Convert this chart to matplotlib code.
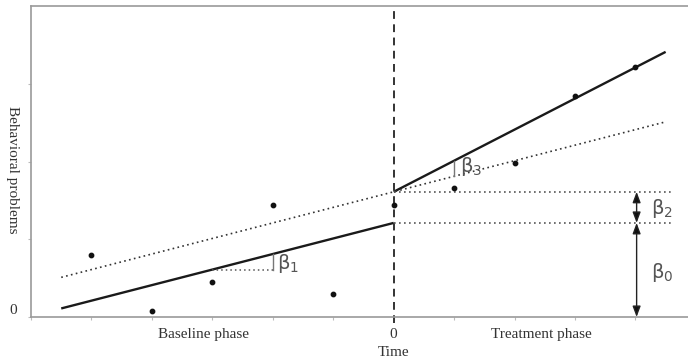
import numpy as np
import matplotlib.pyplot as plt

# observed points
base_x = [-5, -4, -3, -2, -1]
base_y = [0.80, 0.08, 0.45, 1.44, 0.30]
treat_x = [0, 1, 2, 3, 4]
treat_y = [1.44, 1.66, 1.98, 2.84, 3.22]

# model coefficients
b0 = 1.21   # baseline intercept
b1 = 0.20   # baseline slope
b2 = 0.40   # level change
b3 = 0.20   # slope change

x_start, x_end = -5.5, 4.5

grey = "#9a9a9a"
txt = "#333333"
serif = "Liberation Serif"
dots = (0, (1, 2.0))

plt.rcParams["mathtext.fontset"] = "dejavusans"


def beta(ax, x, y, sub):
    ax.text(x, y, r"$\mathregular{\beta_%s}$" % sub, fontsize=14, color="#555555",
            va="center", family="DejaVu Sans")


def main():
    fig = plt.figure(figsize=(6.88, 3.62), dpi=100)
    ax = fig.add_axes([31 / 688, 45 / 362, 1 - 31 / 688, 311 / 362])
    ax.set_xlim(-6.0, 4.87)
    ax.set_ylim(0, 4)

    # regression lines
    xb = np.array([x_start, 0])
    xt = np.array([0, x_end])
    ax.plot(xb, b0 + b1 * xb, color="#1a1a1a", lw=1.7, solid_capstyle="butt")
    ax.plot(xt, b0 + b2 + (b1 + b3) * xt, color="#1a1a1a", lw=1.7, solid_capstyle="butt")
    xd = np.array([x_start, x_end])
    ax.plot(xd, b0 + b2 + b1 * xd, color="#333333", lw=1.2, ls=dots)

    # points
    ax.scatter(base_x + treat_x, base_y + treat_y, s=10, color="#111111", zorder=3)

    # phase change line
    ax.axvline(0, color="#333333", lw=1.4, ls=(0, (4, 2.8)), ymin=-0.02, clip_on=False)

    # level reference lines
    ax.plot([0, 4.6], [b0 + b2, b0 + b2], color="#555555", lw=1.2, ls=dots)
    ax.plot([0, 4.6], [b0, b0], color="#555555", lw=1.2, ls=dots)

    # beta0 / beta2 arrows
    ax_x = 4.02
    arr = dict(arrowstyle="<|-|>,head_length=0.8,head_width=0.3", color="#777777",
               lw=1.0, mutation_scale=8, shrinkA=0, shrinkB=0,
               fc="#111111", ec="#222222")
    ax.annotate("", xy=(ax_x, b0), xytext=(ax_x, b0 + b2), arrowprops=arr)
    ax.annotate("", xy=(ax_x, 0), xytext=(ax_x, b0), arrowprops=arr)
    beta(ax, 4.25, b0 + b2 / 2 - 0.02, "2")
    beta(ax, 4.25, b0 / 2 - 0.03, "0")

    # beta1 triangle
    y_a = b0 + b1 * -3
    ax.plot([-3, -2], [y_a, y_a], color="#555555", lw=1.1, ls=dots)
    ax.plot([-2, -2], [y_a, b0 + b1 * -2], color="#777777", lw=1.0)
    beta(ax, -1.93, y_a + 0.08, "1")

    # beta3 marker
    ax.plot([1, 1], [b0 + b2 + b1, b0 + b2 + b1 + b3], color="#777777", lw=1.0)
    beta(ax, 1.1, b0 + b2 + b1 + 0.13, "3")

    # axes styling
    for side in ["left", "bottom", "top"]:
        ax.spines[side].set_color(grey)
        ax.spines[side].set_linewidth(1.2)
    ax.spines["right"].set_visible(False)

    ax.set_yticks([0, 1, 2, 3])
    ax.set_yticklabels(["", "", "", ""])
    ax.set_xticks(range(-6, 5))
    ax.set_xticklabels([""] * 11)
    ax.tick_params(axis="both", length=2.5, width=0.8, color="#bbbbbb")
    ax.text(-6.3, 0.08, "0", ha="center", va="center", family=serif, fontsize=11,
            color=txt)

    ax.text(0, -0.23, "0", ha="center", va="center", family=serif, fontsize=11,
            color=txt)
    ax.text(-3.15, -0.23, "Baseline phase", ha="center", va="center", family=serif,
            fontsize=11, color=txt)
    ax.text(2.45, -0.23, "Treatment phase", ha="center", va="center", family=serif,
            fontsize=11, color=txt)
    ax.text(0, -0.46, "Time", ha="center", va="center", family=serif,
            fontsize=11, color=txt)

    fig.text(12 / 688, 1 - 170 / 362, "Behavioral problems", rotation=-90,
             ha="center", va="center", family=serif, fontsize=11, color=txt)

    fig.savefig("out.png", dpi=100)


if __name__ == "__main__":
    main()
